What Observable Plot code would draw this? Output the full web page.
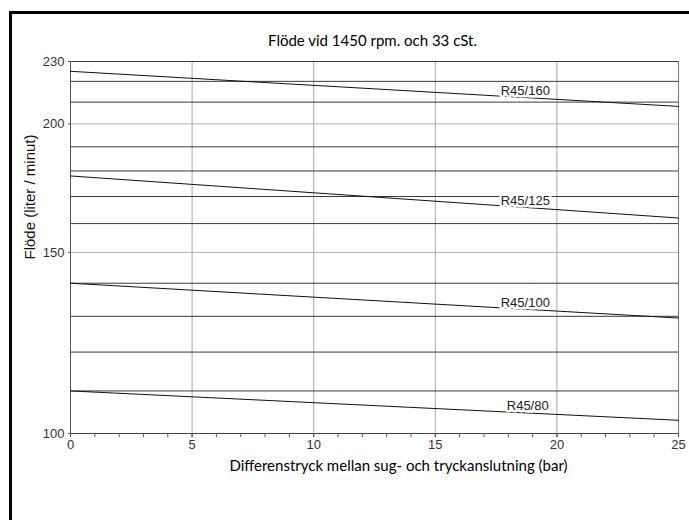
<!DOCTYPE html>
<html>
<head>
<meta charset="utf-8">
<script src="https://cdn.jsdelivr.net/npm/d3@7"></script>
<script src="https://cdn.jsdelivr.net/npm/@observablehq/plot@0.6"></script>
<style>
  html, body { margin: 0; padding: 0; background: #fff; overflow: hidden; }
  #wrap { position: relative; width: 689px; height: 520px; overflow: hidden; }
  #frame { position: absolute; left: 9px; top: 11px; width: 690px; height: 520px; border-left: 3px solid #000; border-top: 3px solid #000; box-sizing: border-box; }
  #chart { position: absolute; left: 0; top: 0; }
</style>
</head>
<body>
<div id="wrap">
  <div id="frame"></div>
  <div id="chart"></div>
</div>
<script>
const title = "Flöde vid 1450 rpm. och 33 cSt.";
const xLabel = "Differenstryck mellan sug- och tryckanslutning (bar)";
const yLabel = "Flöde (liter / minut)";

const models = ["R45/160", "R45/125", "R45/100", "R45/80"];
const pressureStart = 0;
const pressureEnd = 25;
const flowAtStart = [225, 178, 140, 110];
const flowAtEnd = [208, 162, 129.5, 103];
const labelPressure = [18.7, 18.7, 18.7, 18.8];
const labelFlow = [215.6, 168.4, 134, 106.5];

const xMajorTicks = [0, 5, 10, 15, 20, 25];
const xMinorTicks = [0,1,2,3,4,5,6,7,8,9,10,11,12,13,14,15,16,17,18,19,20,21,22,23,24,25];
const xGrid = [5, 10, 15, 20];
const yTicks = [100, 150, 200, 230];
const yGridDark = [110, 120, 130, 140, 160, 170, 180, 190, 210, 220];
const yGridLight = [150, 200];

const lineRows = models.flatMap((m, i) => [
  {model: m, p: pressureStart, q: flowAtStart[i]},
  {model: m, p: pressureEnd, q: flowAtEnd[i]}
]);
const labelRows = models.map((m, i) => ({model: m, p: labelPressure[i], q: labelFlow[i]}));

const tickFont = "'Liberation Sans', Arial, sans-serif";
const titleFont = "Lato, 'Open Sans', sans-serif";

const chart = Plot.plot({
  width: 689,
  height: 520,
  marginLeft: 70,
  marginRight: 11,
  marginTop: 61,
  marginBottom: 87,
  style: {fontFamily: tickFont, background: "transparent", color: "#333"},
  x: {domain: [0, 25]},
  y: {type: "log", domain: [100, 230]},
  marks: [
    Plot.ruleY(yGridLight, {stroke: "#b4b4b4", strokeWidth: 1}),
    Plot.ruleX(xGrid, {stroke: "#a8a8a8", strokeWidth: 1}),
    Plot.ruleY(yGridDark, {stroke: "#3a3a3a", strokeWidth: 1}),
    Plot.ruleY([230], {stroke: "#3a3a3a", strokeWidth: 1}),
    Plot.ruleX([25], {stroke: "#777", strokeWidth: 1}),
    Plot.ruleX([0], {stroke: "#555", strokeWidth: 1}),
    Plot.ruleY([100], {stroke: "#444", strokeWidth: 1}),
    Plot.line(lineRows, {x: "p", y: "q", z: "model", stroke: "#111", strokeWidth: 1}),
    Plot.text(labelRows, {
      x: "p", y: "q", text: "model",
      fontSize: 13, fill: "#222", stroke: "white", strokeWidth: 5,
      fontFamily: tickFont
    }),
    Plot.axisX(xMinorTicks, {tickSize: 4, text: null, label: null, stroke: "#555"}),
    Plot.axisX(xMajorTicks, {tickSize: 4, tickPadding: 2, label: null, fontSize: 13, fill: "#333", stroke: "#555"}),
    Plot.axisY(yTicks, {tickSize: 2, tickPadding: 4, label: null, fontSize: 13, fill: "#333", stroke: "#555"}),
    Plot.text([title], {frameAnchor: "top", dx: -2, dy: -16, lineAnchor: "bottom", fontSize: 15, fill: "#000", fontFamily: titleFont}),
    Plot.text([xLabel], {frameAnchor: "bottom", dx: 24, dy: 37, lineAnchor: "bottom", fontSize: 15, fill: "#000", fontFamily: titleFont}),
    Plot.text([yLabel], {frameAnchor: "left", dx: -40, dy: 12, rotate: -90, fontSize: 15, fill: "#111", fontFamily: tickFont})
  ]
});
document.getElementById("chart").appendChild(chart);
</script>
</body>
</html>
